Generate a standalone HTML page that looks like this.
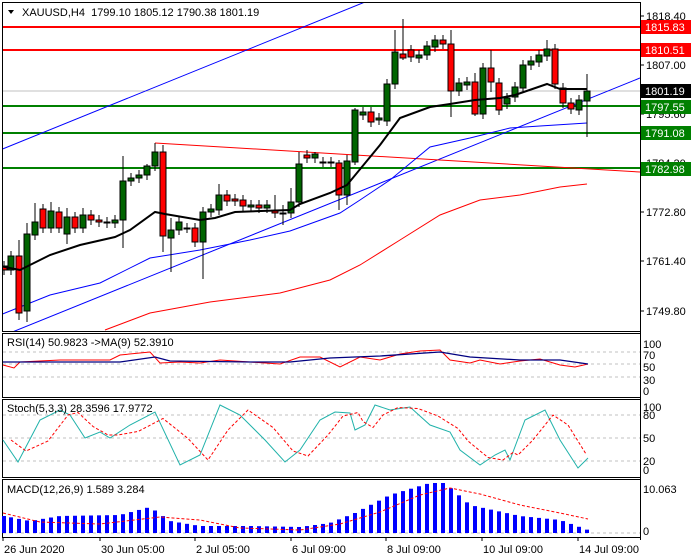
<!DOCTYPE html>
<html><head><meta charset="utf-8"><style>
body{margin:0;background:#fff;}
svg{display:block;font-family:"Liberation Sans",sans-serif;font-size:11px;}
</style></head><body>
<svg id="s" width="700" height="560" xmlns="http://www.w3.org/2000/svg">
<rect width="700" height="560" fill="#fff"/>
<g id="g"></g>
</svg>
<script>
const g=document.getElementById('g');let h='';
function L(pts,c,w,extra){h+=`<polyline fill="none" stroke="${c}" stroke-width="${w}" ${extra||''} points="${pts.map(p=>p.join(',')).join(' ')}"/>`;}
function ln(x1,y1,x2,y2,c,w,e){h+=`<line x1="${x1}" y1="${y1}" x2="${x2}" y2="${y2}" stroke="${c}" stroke-width="${w}" ${e||''}/>`;}
function T(x,y,t,c,a){h+=`<text x="${x}" y="${y}" fill="${c||'#000'}" ${a||''}>${t}</text>`;}
// panels
h+='<clipPath id="cm"><rect x="3" y="3" width="637" height="328"/></clipPath>';
h+='<g clip-path="url(#cm)">';
ln(0,91,640,91,'#c0c0c0',1);
ln(0,27,640,27,'#f00',2);ln(0,50,640,50,'#f00',2);
ln(0,106,640,106,'#008000',2);ln(0,133,640,133,'#008000',2);ln(0,168,640,168,'#008000',2);
ln(0,150,365,2,'#00f',1);ln(0,337,640,78,'#00f',1);
ln(155,143,640,172,'#f00',1);
L([[105,330],[150,313],[210,302],[280,293],[330,280],[360,265],[400,240],[440,215],[480,200],[520,195],[560,187],[587,184]],'#f00',1);
L([[0,315],[50,295],[100,283],[150,258],[200,250],[250,240],[290,231],[340,213],[360,200],[390,180],[430,147],[470,138],[510,128],[540,126],[587,123]],'#00f',1);
// candles [x,o,c,hi,lo]
const C=[[4,266,270],[11,270,256],[19,256,313,240,320],[27,311,234,223,322],[35,235,222,203],[43,209,228],[51,228,211,202],[59,212,228],[67,234,217,208,244],[75,217,228],[83,228,215,208],[91,215,220],[99,220,222],[107,222,223],[115,223,220],[123,220,181,156,248],[131,181,178],[139,178,175],[147,175,166,164],[155,166,152,143],[163,152,236,145,252],[171,238,230,218,272],[179,230,222],[187,228,228],[195,228,242],[203,242,212,207,279],[211,212,209],[219,210,195,184],[227,195,201],[235,199,201],[243,200,206],[251,207,205],[259,205,208],[267,208,205],[275,211,213,195,218],[283,213,214,205,225],[291,213,202,188],[299,202,164,152],[307,155,158],[315,158,154,152],[323,162,162],[331,162,162],[339,163,195,160,210],[347,195,161,155,205],[355,162,110,108,165],[363,115,112],[371,112,122],[379,120,118],[387,121,84],[395,84,52,30],[403,54,58,19,60],[411,50,57],[419,58,55],[427,55,46],[435,47,40],[443,40,44],[451,44,91,30,117],[459,91,83],[467,85,82],[475,82,114,73,116],[483,114,68],[491,68,82,50,92],[499,83,110],[507,104,98],[515,97,87],[523,88,65],[531,65,61],[539,62,55],[547,56,49,40],[555,49,84],[563,88,103],[571,103,109],[579,110,100],[587,101,91,74,137]];
C.forEach(c=>{const[x,o,cl]=c;const t=Math.min(o,cl),b=Math.max(o,cl);const hi=c[3]||t-5,lo=c[4]||b+5;const up=cl<o;
ln(x,hi,x,lo,'#000',1);h+=`<rect x="${x-3}" y="${t}" width="6" height="${Math.max(b-t,1)}" fill="${up?'#006400':'#f00'}" stroke="#000" stroke-width="1"/>`;});
L([[0,266],[20,270],[50,255],[80,245],[115,237],[130,230],[155,212],[165,214],[200,220],[215,218],[235,212],[290,210],[300,204],[330,193],[347,185],[380,145],[400,118],[430,107],[450,104],[475,100],[500,98],[515,95],[547,84],[560,89],[587,89]],'#000',2);
h+='</g>';
h+='<path d="M8,10 L14,10 L11,14Z" fill="#000"/>';
T(22,16,'XAUUSD,H4&#160;&#160;1799.10 1805.12 1790.38 1801.19');
// frames
[[2,2,638,329],[2,333,638,64],[2,399,638,78],[2,479,638,58]].forEach(r=>h+=`<rect x="${r[0]+.5}" y="${r[1]+.5}" width="${r[2]}" height="${r[3]}" fill="none" stroke="#000"/>`);
ln(640.5,2,640.5,540,'#000',1);
// price axis
[[16,'1818.40'],[65,'1807.00'],[114,'1795.60'],[163,'1784.20'],[212,'1772.80'],[261,'1761.40'],[311,'1749.80']].forEach(a=>{ln(640,a[0],644,a[0],'#000',1);T(646,a[0]+4,a[1]);});
[[27,'1815.83','#f00'],[50,'1810.51','#f00'],[91,'1801.19','#000'],[107,'1797.55','#008000'],[133,'1791.08','#008000'],[169,'1782.98','#008000']].forEach(a=>{h+=`<rect x="641" y="${a[0]-7}" width="50" height="14" fill="${a[2]}"/>`;T(645,a[0]+4,a[1],'#fff');});
// RSI
[352,364,377].forEach(y=>ln(3,y,640,y,'#c0c0c0',1,'stroke-dasharray="3,3"'));
L([[3,365],[14,368],[20,362],[60,360],[110,360],[120,355],[150,352],[160,363],[180,362],[200,363],[220,360],[250,362],[280,364],[300,357],[320,357],[340,367],[360,357],[380,360],[400,354],[420,351],[440,350],[450,360],[470,363],[480,360],[500,364],[520,361],[540,359],[560,365],[575,367],[588,364]],'#f00',1);
L([[3,362],[60,362],[120,362],[155,357],[170,361],[250,362],[290,362],[330,358],[380,356],[440,352],[470,357],[520,360],[560,360],[588,364]],'#000080',1.3);
T(7,346,'RSI(14) 50.9823  -&gt;MA(9) 52.3910');
[[345,'100'],[356,'70'],[368,'50'],[381,'30'],[392,'0']].forEach(a=>T(643,a[0]+3,a[1]));
// Stoch
[415,438,461].forEach(y=>ln(3,y,640,y,'#c0c0c0',1,'stroke-dasharray="3,3"'));
const st=[[3,440],[18,462],[40,420],[60,410],[70,415],[85,438],[100,432],[110,438],[130,425],[155,412],[180,465],[200,455],[220,405],[240,415],[265,440],[285,462],[300,450],[320,420],[335,412],[350,413],[355,430],[365,425],[375,405],[390,410],[410,407],[430,425],[450,432],[460,450],[480,465],[495,455],[505,450],[510,460],[525,420],[545,410],[560,440],[578,468],[588,458]];
L(st,'#20b2aa',1);
L(st.map((p,i)=>[p[0]+8,i?(p[1]+st[i-1][1])/2:p[1]]).filter(p=>p[0]<=590),'#f00',1,'stroke-dasharray="3,2"');
T(7,412,'Stoch(5,3,3) 28.3596 17.9772');
[[407,'100'],[415,'80'],[438,'50'],[461,'20'],[470,'0']].forEach(a=>T(643,a[0]+4,a[1]));
// MACD
ln(3,533,640,533,'#c0c0c0',1,'stroke-dasharray="3,3"');
const mk=[[4,17],[30,12],[60,17],[120,18],[150,26],[170,12],[200,7],[250,7],[300,6],[330,10],[355,20],[390,38],[430,50],[445,50],[470,28],[520,17],[560,13],[588,3]];
function interp(arr,x){for(let i=1;i<arr.length;i++)if(x<=arr[i][0]){const a=arr[i-1],b=arr[i];return a[1]+(b[1]-a[1])*(x-a[0])/(b[0]-a[0]);}return arr[arr.length-1][1];}
C.forEach(c=>{const v=interp(mk,c[0]);h+=`<rect x="${c[0]-2}" y="${533-v}" width="4" height="${v}" fill="#00f"/>`;});
L([[3,513],[40,522],[100,524],[160,517],[200,520],[240,528],[300,530],[340,524],[380,512],[420,495],[450,488],[480,494],[520,505],[560,513],[588,519]],'#f00',1,'stroke-dasharray="3,2"');
T(7,493,'MACD(12,26,9) 1.589 3.284');
T(643,493,'10.063');T(643,535,'0');
// dates
[[2,'26 Jun 2020'],[99,'30 Jun 05:00'],[194,'2 Jul 05:00'],[290,'6 Jul 09:00'],[385,'8 Jul 09:00'],[481,'10 Jul 09:00'],[577,'14 Jul 09:00']].forEach(a=>{ln(a[0]+1,537,a[0]+1,541,'#000',1);T(a[0]+2,553,a[1]);});
g.innerHTML=h;
</script>
</body></html>
